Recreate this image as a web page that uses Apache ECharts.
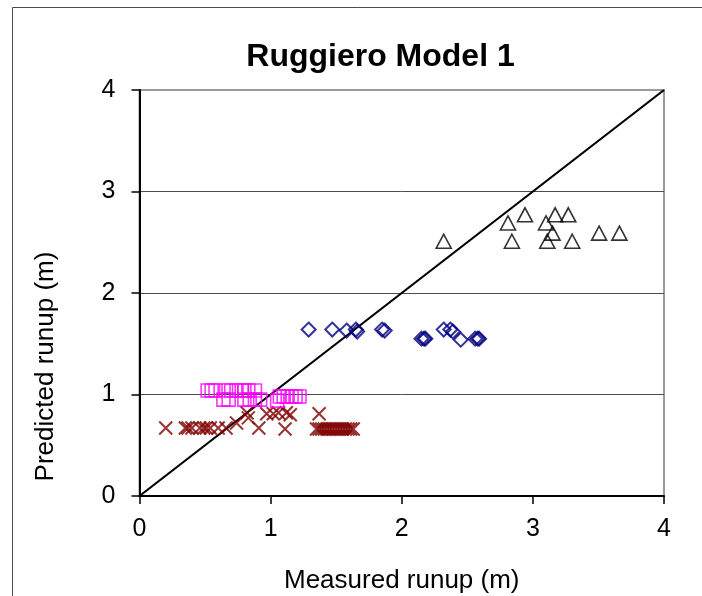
<!DOCTYPE html>
<html>
<head>
<meta charset="utf-8">
<script src="https://cdn.jsdelivr.net/npm/echarts@6/dist/echarts.min.js"></script>
<style>
  html, body { margin: 0; padding: 0; background: #fff; }
  #chart { width: 702px; height: 596px; }
</style>
</head>
<body>
<div id="chart"></div>
<script>
// Measured vs predicted runup (m), grouped by site
const crossPoints = [
  [0.20, 0.67], [0.35, 0.67], [0.37, 0.67], [0.40, 0.67], [0.46, 0.67], [0.49, 0.67],
  [0.51, 0.67], [0.54, 0.67], [0.60, 0.67], [0.66, 0.67], [0.74, 0.72], [0.83, 0.77],
  [0.91, 0.67], [1.11, 0.66], [0.82, 0.82], [0.97, 0.81], [1.02, 0.81], [1.06, 0.82],
  [1.12, 0.82], [1.15, 0.80], [1.37, 0.81],
  [1.35, 0.66], [1.37, 0.66], [1.39, 0.66], [1.41, 0.66], [1.43, 0.66], [1.45, 0.66],
  [1.47, 0.66], [1.49, 0.66], [1.51, 0.66], [1.53, 0.66], [1.55, 0.66], [1.57, 0.66],
  [1.59, 0.66], [1.61, 0.66], [1.63, 0.66]
];
const squarePoints = [
  [0.52, 1.04], [0.55, 1.04], [0.58, 1.04], [0.66, 1.04], [0.70, 1.04], [0.74, 1.04],
  [0.78, 1.04], [0.80, 1.04], [0.83, 1.04], [0.88, 1.04],
  [0.64, 0.95], [0.68, 0.95], [0.80, 0.95], [0.84, 0.95], [0.88, 0.95], [0.92, 0.95],
  [1.05, 0.94], [1.07, 0.98], [1.10, 0.98], [1.13, 0.98], [1.16, 0.98], [1.19, 0.98],
  [1.22, 0.98]
];
const diamondPoints = [
  [1.29, 1.64], [1.47, 1.64], [1.58, 1.63], [1.65, 1.64], [1.66, 1.62], [1.85, 1.64],
  [1.87, 1.63], [2.32, 1.64], [2.37, 1.64], [2.39, 1.62],
  [2.15, 1.55], [2.17, 1.55], [2.18, 1.55], [2.45, 1.54], [2.56, 1.55], [2.58, 1.55],
  [2.59, 1.55]
];
const trianglePoints = [
  [2.32, 2.51], [2.81, 2.69], [2.94, 2.77], [2.84, 2.51], [3.17, 2.77], [3.27, 2.77],
  [3.10, 2.69], [3.15, 2.59], [3.11, 2.51], [3.30, 2.51], [3.505, 2.59], [3.66, 2.59]
];
const perfectAgreement = [[0, 0], [4, 4]];
const axisTicks = [0, 1, 2, 3, 4];

const FONT = '"Liberation Sans", Arial, sans-serif';
const chart = echarts.init(document.getElementById('chart'), null, { renderer: 'canvas' });

const hollow = (color, width) => ({ color: 'transparent', borderColor: color, borderWidth: width });

chart.setOption({
  animation: false,
  backgroundColor: '#ffffff',
  grid: {
    left: 139.5, right: 38, top: 90, bottom: 100,
    containLabel: false, outerBoundsMode: 'none',
    show: true, borderColor: '#9a9a9a', borderWidth: 2, backgroundColor: 'transparent'
  },
  graphic: [
    {
      type: 'rect', silent: true, z: -1,
      shape: { x: 12.5, y: 7.5, width: 720, height: 620 },
      style: { fill: 'none', stroke: '#4a4a4a', lineWidth: 1 }
    },
    {
      type: 'text', x: 380.5, y: 57,
      style: { text: 'Ruggiero Model 1', font: 'bold 32px ' + FONT, fill: '#000',
               textAlign: 'center', textVerticalAlign: 'middle' }
    },
    {
      type: 'text', x: 46, y: 366.5, rotation: Math.PI / 2,
      style: { text: 'Predicted runup (m)', font: '26px ' + FONT, fill: '#000',
               textAlign: 'center', textVerticalAlign: 'middle' }
    }
  ],
  xAxis: {
    type: 'value', min: axisTicks[0], max: axisTicks[axisTicks.length - 1], interval: 1,
    name: 'Measured runup (m)', nameLocation: 'middle', nameGap: 72,
    nameTextStyle: { fontFamily: FONT, fontSize: 26, color: '#000' },
    axisLine: { show: true, onZero: false, lineStyle: { color: '#000', width: 2 } },
    axisTick: { show: true, inside: false, length: 8, lineStyle: { color: '#000', width: 1.5 } },
    axisLabel: { fontFamily: FONT, fontSize: 25, color: '#000', margin: 21 },
    splitLine: { show: false }
  },
  yAxis: {
    type: 'value', min: axisTicks[0], max: axisTicks[axisTicks.length - 1], interval: 1,
    axisLine: { show: true, onZero: false, lineStyle: { color: '#000', width: 2 } },
    axisTick: { show: true, inside: false, length: 8, lineStyle: { color: '#000', width: 1.5 } },
    axisLabel: { fontFamily: FONT, fontSize: 25, color: '#000', margin: 24 },
    splitLine: { show: true, lineStyle: { color: ['#000', '#4d4d4d', '#4d4d4d', '#4d4d4d', '#9a9a9a'], width: 1 } }
  },
  series: [
    {
      type: 'line', data: perfectAgreement, showSymbol: false, symbol: 'none',
      lineStyle: { color: '#000', width: 2.2 }, z: 2, silent: true
    },
    {
      type: 'scatter', data: crossPoints, z: 3,
      symbol: 'path://M0,0L12,12M12,0L0,12', symbolSize: 13,
      itemStyle: hollow('#800000', 2)
    },
    {
      type: 'scatter', data: squarePoints, z: 3,
      symbol: 'rect', symbolSize: 13,
      itemStyle: hollow('#ff00ff', 1.6)
    },
    {
      type: 'scatter', data: diamondPoints, z: 3,
      symbol: 'diamond', symbolSize: 14,
      itemStyle: hollow('#000080', 2)
    },
    {
      type: 'scatter', data: trianglePoints, z: 3,
      symbol: 'triangle', symbolSize: [15, 14],
      itemStyle: hollow('#000000', 1.6)
    }
  ]
});
</script>
</body>
</html>
